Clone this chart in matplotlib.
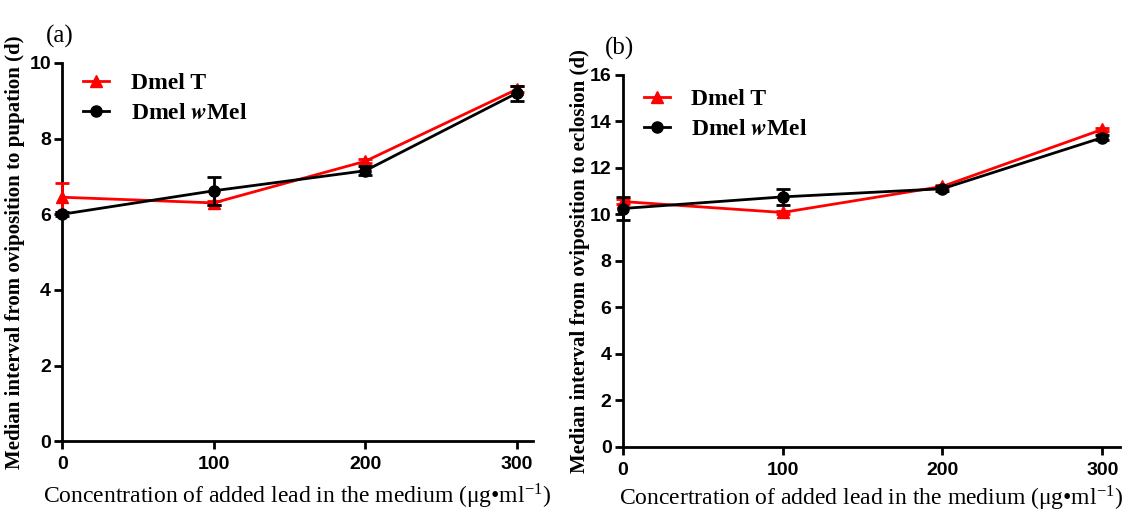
import numpy as np
import matplotlib
matplotlib.use('Agg')
import matplotlib.pyplot as plt
from matplotlib.lines import Line2D
from matplotlib.font_manager import FontProperties

plt.rcParams['mathtext.fontset'] = 'stix'

# data
conc = [0, 100, 200, 300]

# (a) oviposition to pupation
pup_T = [6.45, 6.3, 7.4, 9.3]
pup_T_err = [0.38, 0.05, 0.05, 0.08]
pup_W = [6.0, 6.62, 7.15, 9.2]
pup_W_err = [0.05, 0.37, 0.12, 0.2]

# (b) oviposition to eclosion
ecl_T = [10.55, 10.08, 11.2, 13.65]
ecl_T_err = [0.1, 0.08, 0.06, 0.08]
ecl_W = [10.25, 10.75, 11.1, 13.3]
ecl_W_err = [0.48, 0.35, 0.1, 0.12]

fig = plt.figure(figsize=(11.3, 5.16), dpi=100)
ax1 = fig.add_axes([0.055, 0.145, 0.417, 0.733])
ax2 = fig.add_axes([0.551, 0.134, 0.44, 0.721])

tick_fp = FontProperties(family='Liberation Sans', weight='bold', size=14)
wlabel = 'Dmel $\\mathbfit{w}$Mel'
handles = [Line2D([], [], color='#ff0000', marker='^', ms=8, lw=2),
           Line2D([], [], color='black', marker='o', ms=8, lw=2)]


def style_axes(ax, ylim, yticks, ylabel, xlabel, tag, leg_y, xpad, ypad):
    for s in ['top', 'right']:
        ax.spines[s].set_visible(False)
    for s in ['left', 'bottom']:
        ax.spines[s].set_linewidth(2)
    ax.set_xlim(0, 311)
    ax.set_ylim(*ylim)
    ax.set_xticks([0, 100, 200, 300])
    ax.set_yticks(yticks)
    ax.tick_params(width=2, length=6, direction='out', pad=2)
    ax.tick_params(axis='x', pad=5)
    for lab in ax.get_xticklabels() + ax.get_yticklabels():
        lab.set_fontproperties(tick_fp)
    ax.set_ylabel(ylabel, family='Liberation Serif', weight='bold', fontsize=15, labelpad=ypad)
    ax.set_xlabel(xlabel, family='Liberation Serif', fontsize=17, labelpad=xpad)
    ax.text(-0.035, 1.07, tag, transform=ax.transAxes, family='Liberation Serif', fontsize=18,
            ha='left', va='center')
    ax.legend(handles, ['Dmel T', wlabel], loc='upper left', bbox_to_anchor=(0.0, leg_y),
              frameon=False, prop={'family': 'Liberation Serif', 'weight': 'bold', 'size': 17},
              handlelength=1.1, labelspacing=0.35, handletextpad=0.9)


ax1.errorbar(conc, pup_T, yerr=pup_T_err, color='#ff0000', marker='^', ms=8, lw=2,
             capsize=5, capthick=2, elinewidth=2, clip_on=False, zorder=3)
ax1.errorbar(conc, pup_W, yerr=pup_W_err, color='black', marker='o', ms=8, lw=2,
             capsize=5, capthick=2, elinewidth=2, clip_on=False, zorder=4)
style_axes(ax1, (0, 10), [0, 2, 4, 6, 8, 10],
           'Median interval from oviposition to pupation (d)',
           'Concentration of added lead in the medium (μg•ml$^{\\mathregular{-1}}$)', '(a)',
           1.03, 6, 3)

ax2.errorbar(conc, ecl_T, yerr=ecl_T_err, color='#ff0000', marker='^', ms=8, lw=2,
             capsize=5, capthick=2, elinewidth=2, clip_on=False, zorder=3)
ax2.errorbar(conc, ecl_W, yerr=ecl_W_err, color='black', marker='o', ms=8, lw=2,
             capsize=5, capthick=2, elinewidth=2, clip_on=False, zorder=4)
style_axes(ax2, (0, 16), [0, 2, 4, 6, 8, 10, 12, 14, 16],
           'Median interval from oviposition to eclosion (d)',
           'Concertration of added lead in the medium (μg•ml$^{\\mathregular{-1}}$)', '(b)',
           1.02, 3, 0)

fig.savefig('out.png', dpi=100)
